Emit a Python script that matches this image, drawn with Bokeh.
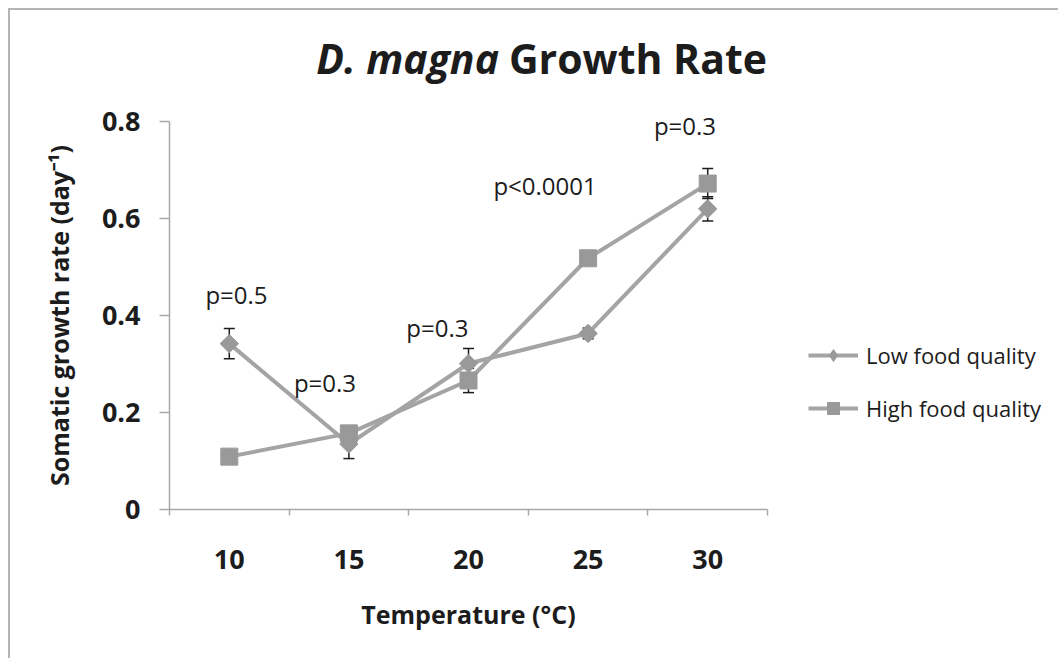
import numpy as np
from bokeh.plotting import figure
from bokeh.models import (ColumnDataSource, Whisker, TeeHead, Label, Legend,
                          LegendItem, FixedTicker, Range1d, LinearAxis)
from bokeh.embed import file_html
from bokeh.resources import INLINE

# ---------------- data ----------------
temperatures = ["10", "15", "20", "25", "30"]
low_rate = [0.342, 0.135, 0.301, 0.363, 0.620]
low_err = [0.031, 0.030, 0.031, 0.011, 0.025]
high_rate = [0.109, 0.157, 0.266, 0.518, 0.672]
high_err = [0.010, 0.012, 0.025, 0.010, 0.031]
p_labels = ["p=0.5", "p=0.3", "p=0.3", "p<0.0001", "p=0.3"]
y_ticks = [0, 0.2, 0.4, 0.6, 0.8]

# ---------------- layout constants ----------------
FONT = "Open Sans"
LINE_COL = "#a4a4a4"
MARK_COL = "#999999"
AXIS_COL = "#a8a8a8"
TXT = "#1c1c1c"
W, H = 1050, 650
# canvas pixel positions of the plot area (axis origin / extents)
PX_LEFT, PX_RIGHT = 159, 757
PX_BOTTOM, PX_TOP = 499, 111
Y_MAX = 0.8
N = len(temperatures)
sx = (PX_RIGHT - PX_LEFT) / N
sy = (PX_BOTTOM - PX_TOP) / Y_MAX
x_range = Range1d(-PX_LEFT / sx, (W - PX_LEFT) / sx)
y_range = Range1d(-(H - PX_BOTTOM) / sy, PX_BOTTOM / sy)

ann_x = [0.56, 1.30, 2.24, 3.14, 4.31]
ann_y = [0.443, 0.262, 0.375, 0.668, 0.792]

xpos = list(np.arange(N) + 0.5)

p = figure(width=W, height=H, x_range=x_range, y_range=y_range,
           output_backend="svg", toolbar_location=None,
           x_axis_location=None, y_axis_location=None, min_border=0,
           styles={"border-left": "2px solid #b4b4b4", "border-top": "2px solid #b4b4b4",
                   "margin-left": "8px", "margin-top": "8px"})
p.xgrid.visible = False
p.ygrid.visible = False
p.outline_line_color = None

# x axis
xa = LinearAxis(fixed_location=0, bounds=(0, N))
xa.ticker = FixedTicker(ticks=xpos, minor_ticks=list(range(N + 1)))
xa.major_label_overrides = {float(x): t for x, t in zip(xpos, temperatures)}
xa.major_tick_line_color = None
xa.major_tick_out = 0
xa.major_tick_in = 0
xa.minor_tick_out = 6
xa.minor_tick_in = 0
xa.minor_tick_line_color = AXIS_COL
xa.minor_tick_line_width = 1.5
xa.axis_line_color = AXIS_COL
xa.axis_line_width = 1.5
xa.major_label_standoff = 34
xa.major_label_text_font = FONT
xa.major_label_text_font_style = "bold"
xa.major_label_text_font_size = "27px"
xa.major_label_text_color = TXT
xa.axis_label = "Temperature (°C)"
xa.axis_label_text_font = FONT
xa.axis_label_text_font_style = "bold"
xa.axis_label_text_font_size = "25px"
xa.axis_label_text_color = TXT
xa.axis_label_standoff = 25
p.add_layout(xa, "below")

# y axis
ya = LinearAxis(fixed_location=0, bounds=(0, Y_MAX))
ya.ticker = FixedTicker(ticks=y_ticks, minor_ticks=[])
ya.major_label_overrides = {0: "0"}
ya.major_tick_out = 10
ya.major_tick_in = 0
ya.major_tick_line_color = AXIS_COL
ya.major_tick_line_width = 1.5
ya.minor_tick_line_color = None
ya.axis_line_color = AXIS_COL
ya.axis_line_width = 1.5
ya.major_label_standoff = 19
ya.major_label_text_font = FONT
ya.major_label_text_font_style = "bold"
ya.major_label_text_font_size = "27px"
ya.major_label_text_color = TXT
ya.axis_label = "Somatic growth rate (day⁻¹)"
ya.axis_label_text_font = FONT
ya.axis_label_text_font_style = "bold"
ya.axis_label_text_font_size = "25px"
ya.axis_label_text_color = TXT
ya.axis_label_standoff = 23
p.add_layout(ya, "left")

# error bars
for rate, err in ((low_rate, low_err), (high_rate, high_err)):
    src = ColumnDataSource(dict(x=xpos,
                                upper=[r + e for r, e in zip(rate, err)],
                                lower=[r - e for r, e in zip(rate, err)]))
    w = Whisker(base="x", upper="upper", lower="lower", source=src,
                dimension="height", line_color=TXT, line_width=1.5,
                upper_head=TeeHead(size=11, line_color=TXT, line_width=1.5),
                lower_head=TeeHead(size=11, line_color=TXT, line_width=1.5))
    p.add_layout(w)

# series
low_line = p.line(xpos, low_rate, line_color=LINE_COL, line_width=4)
low_key = p.scatter(xpos, low_rate, marker="diamond", size=17,
                    fill_color=MARK_COL, line_color=MARK_COL)
low_pts = p.scatter(xpos, low_rate, marker="square", angle=np.pi / 4, size=13,
                    fill_color=MARK_COL, line_color=MARK_COL)
high_line = p.line(xpos, high_rate, line_color=LINE_COL, line_width=4)
high_pts = p.scatter(xpos, high_rate, marker="square", size=17,
                     fill_color=MARK_COL, line_color=MARK_COL)

legend = Legend(items=[LegendItem(label="Low food quality", renderers=[low_line, low_key]),
                       LegendItem(label="High food quality", renderers=[high_line, high_pts])],
                location=(798, 237), orientation="vertical", glyph_width=50,
                glyph_height=30, label_height=30, spacing=23, padding=0, margin=0,
                border_line_color=None, background_fill_alpha=0,
                label_text_font=FONT, label_text_font_size="22px",
                label_text_color=TXT, label_standoff=8)
p.add_layout(legend)

# p-value annotations
for x, y, t in zip(ann_x, ann_y, p_labels):
    p.add_layout(Label(x=x, y=y, text=t, text_align="center", text_baseline="middle",
                       text_font=FONT, text_font_size="24px", text_color=TXT))

# title (mixed italic / bold)
p.add_layout(Label(x=2.755, y=0.93, text="D. magna", text_align="right",
                   text_baseline="middle", text_font=FONT,
                   text_font_style="bold italic", text_font_size="41px", text_color=TXT))
p.add_layout(Label(x=2.838, y=0.93, text="Growth Rate", text_align="left",
                   text_baseline="middle", text_font=FONT,
                   text_font_style="bold", text_font_size="41px", text_color=TXT))

open("out.html", "w").write(file_html(p, INLINE))
